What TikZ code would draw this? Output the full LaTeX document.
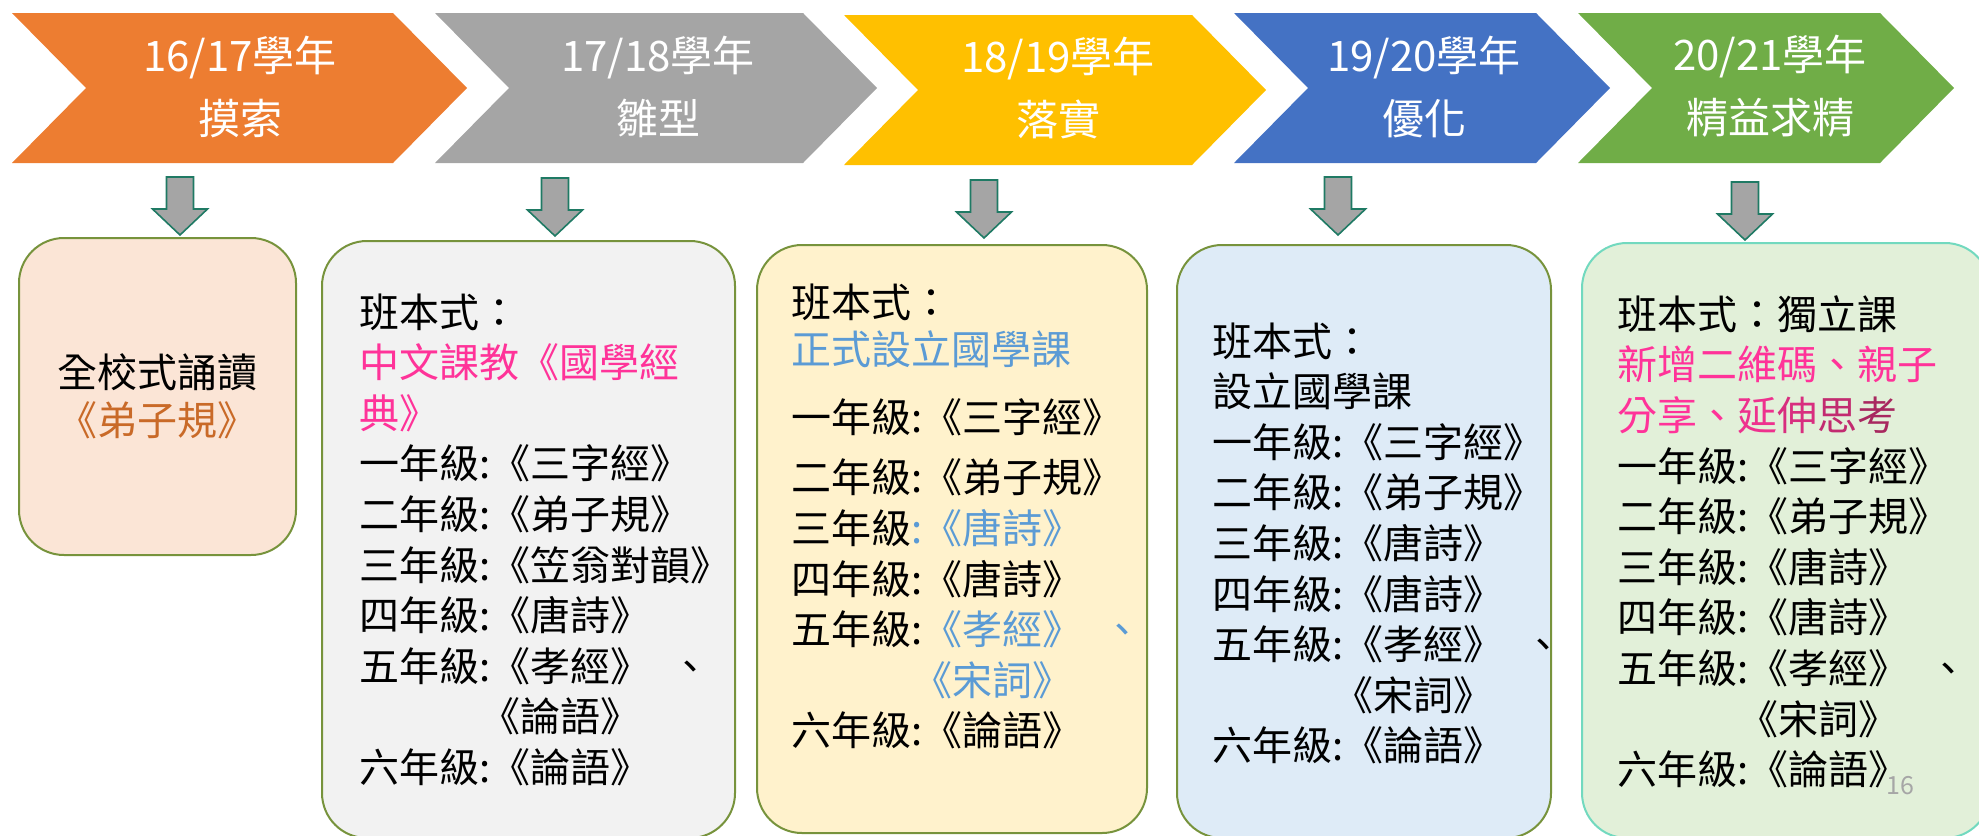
\documentclass[tikz,border=0pt]{standalone}
\usepackage{fontspec}
\setmainfont{Noto Sans CJK TC}

\definecolor{chevorange}{HTML}{ED7D31}
\definecolor{chevgray}{HTML}{A5A5A5}
\definecolor{chevgold}{HTML}{FFC000}
\definecolor{chevblue}{HTML}{4472C4}
\definecolor{chevgreen}{HTML}{70AD47}
\definecolor{cardpeach}{HTML}{FBE5D6}
\definecolor{cardgray}{HTML}{F2F2F2}
\definecolor{cardgold}{HTML}{FFF2CC}
\definecolor{cardblue}{HTML}{DEEBF7}
\definecolor{cardgreen}{HTML}{E2F0D9}
\definecolor{cardline}{HTML}{77933C}
\definecolor{cardteal}{HTML}{72D9BF}
\definecolor{arrowline}{HTML}{1F7A64}
\definecolor{pinktext}{HTML}{FF3399}
\definecolor{plumtext}{HTML}{A8285F}
\definecolor{bluetext}{HTML}{5B9BD5}
\definecolor{orangetext}{HTML}{C96A28}
\definecolor{pagegray}{HTML}{A6A6A6}

\tikzset{%
    chevtext/.style={text=white, align=center,
    	font=\fontsize{21pt}{31.5pt}\selectfont},
    card/.style={draw=cardline, line width=1pt, rounded corners=22.5pt},
    downarrow/.style={draw=arrowline, fill=chevgray, line width=0.8pt,
    	insert path={++(-13.5,0) -- ++(27,0) -- ++(0,32) -- ++(14,0)
    	-- ++(-27.5,26) -- ++(-27.5,-26) -- ++(14,0) -- cycle}},
    lines/.style={anchor=north west, align=left, inner sep=0pt,
    	font=\fontsize{20pt}{25.3pt}\selectfont}
}

\begin{document}
\begin{tikzpicture}[x=0.5pt, y=-0.5pt]
  \useasboundingbox (0,0) rectangle (1979,835);

  % chevrons
  \fill[chevorange] (12,13) -- (393,13) -- (467,88) -- (393,163) -- (12,163) -- (86,88) -- cycle;
  \fill[chevgray] (435,13) -- (803,13) -- (877,88) -- (803,163) -- (435,163) -- (509,88) -- cycle;
  \fill[chevgold] (844,15) -- (1192,15) -- (1266,90) -- (1192,165) -- (844,165) -- (918,90) -- cycle;
  \fill[chevblue] (1234,13) -- (1536,13) -- (1610,88) -- (1536,163) -- (1234,163) -- (1308,88) -- cycle;
  \fill[chevgreen] (1578,13) -- (1880,13) -- (1954,88) -- (1880,163) -- (1578,163) -- (1652,88) -- cycle;

  \node[chevtext] (c1) at (240,86.5) {16/17學年\\摸索};
  \node[chevtext] (c2) at (658,86.5) {17/18學年\\雛型};
  \node[chevtext] (c3) at (1058,88.5) {18/19學年\\落實};
  \node[chevtext] (c4) at (1424,86.5) {19/20學年\\優化};
  \node[chevtext] (c5) at (1770,86.5) {20/21學年\\精益求精};

  % block arrows
  \coordinate (a1) at (180,177);
  \coordinate (a2) at (555,178);
  \coordinate (a3) at (984,180);
  \coordinate (a4) at (1338,177);
  \coordinate (a5) at (1745,182);
  \draw (a1) [downarrow];
  \draw (a2) [downarrow];
  \draw (a3) [downarrow];
  \draw (a4) [downarrow];
  \draw (a5) [downarrow];

  % cards
  \node[card, fill=cardpeach, minimum width=138.5pt, minimum height=158.5pt] (b1) at (157.5,396.5) {};
  \node[card, fill=cardgray, minimum width=206.5pt, minimum height=298.5pt] (b2) at (528.5,539.5) {};
  \node[card, fill=cardgold, minimum width=195pt, minimum height=294pt] (b3) at (952,539) {};
  \node[card, fill=cardblue, minimum width=187pt, minimum height=296.5pt] (b4) at (1364,541.5) {};
  \node[card, fill=cardgreen, draw=cardteal, minimum width=204pt, minimum height=297.5pt] (b5) at (1786,540.5) {};

  \node[align=center, inner sep=0pt, font=\fontsize{20pt}{24pt}\selectfont] (t1) at (157,396)
    {全校式誦讀\\{\color{orangetext}《弟子規》}};

  \node[lines] (t2) at (359,293) {班本式：\\
    {\color{pinktext}中文課教《國學經}\\
    {\color{pinktext}典》}\\
    一年級:《三字經》\\
    二年級:《弟子規》\\
    三年級:《笠翁對韻》\\
    四年級:《唐詩》\\
    五年級:《孝經》\hspace{10pt}、\\
    \phantom{五年級:}\hspace{-5pt}《論語》\\
    六年級:《論語》};

  \node[lines] (t3) at (791,283) {班本式：\\[-1.5pt]
    {\color{bluetext}正式設立國學課}\\[8.5pt]
    一年級:《三字經》\\[5pt]
    二年級:《弟子規》\\
    三年級{\color{bluetext}:《唐詩》}\\
    四年級:《唐詩》\\
    五年級:{\color{bluetext}《孝經》\hspace{10pt}、}\\
    \phantom{五年級:}\hspace{-5pt}{\color{bluetext}《宋詞》}\\
    六年級:《論語》};

  \node[lines] (t4) at (1212,322) {班本式：\\
    設立國學課\\
    一年級:《三字經》\\
    二年級:《弟子規》\\
    三年級:《唐詩》\\
    四年級:《唐詩》\\
    五年級:《孝經》\hspace{10pt}、\\
    \phantom{五年級:}\hspace{-5pt}《宋詞》\\
    六年級:《論語》};

  \node[lines] (t5) at (1617,295) {班本式：獨立課\\
    {\color{pinktext}新增二維碼、親子}\\
    {\color{pinktext}分享、\color{pinktext!80!plumtext}延\color{pinktext!55!plumtext}伸\color{pinktext!30!plumtext}思\color{plumtext}考}\\
    一年級:《三字經》\\
    二年級:《弟子規》\\
    三年級:《唐詩》\\
    四年級:《唐詩》\\
    五年級:《孝經》\hspace{10pt}、\\
    \phantom{五年級:}\hspace{-5pt}《宋詞》\\
    六年級:《論語》};

  \node[text=pagegray, inner sep=0pt, font=\fontsize{12.5pt}{15pt}\selectfont] (pg) at (1900,786) {16};
\end{tikzpicture}
\end{document}
